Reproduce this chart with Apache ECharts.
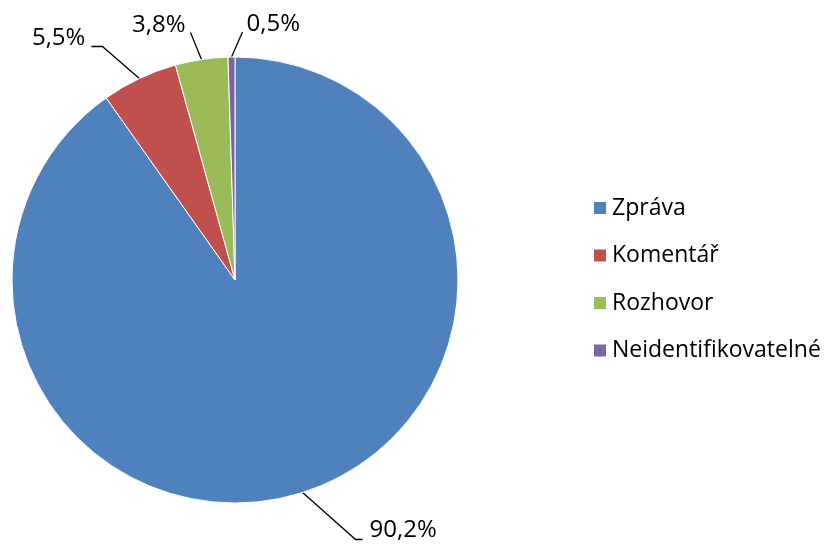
<!DOCTYPE html>
<html>
<head>
<meta charset="utf-8">
<script src="https://cdn.jsdelivr.net/npm/echarts@6/dist/echarts.min.js"></script>
<style>
  *{margin: 0; padding: 0;}
  html,body{width: 100%; height: 100%; background: #fff;}
  #chart{width: 828px; height: 544px;}
</style>
</head>
<body>
<div id="chart"></div>
<script>
var categories = ['Zpráva', 'Komentář', 'Rozhovor', 'Neidentifikovatelné']
var values = [90.2, 5.5, 3.8, 0.5]
var colors = ['#4f81bd', '#c0504d', '#9bbb59', '#8064a2']

// leader line shape per label, relative to the slice edge point:
// [elbowDx, elbowDy, endDx, labelDx, labelDy, align]
var leaderShapes = [
  [53, 47, 60, 67, 38, 'left'],
  [-37, -32, -48, -54, -40, 'right'],
  [-11, -27, -11, -16, -34, 'right'],
  [11, -25, 11, 15, -33, 'left']
]

var pieData = []
for (var i = 0; i < categories.length; i++) {
  pieData.push({ name: categories[i], value: values[i] })
}

var chart = echarts.init(document.getElementById('chart'))
var options = {
  color: colors,
  textStyle: { fontFamily: 'Open Sans' },
  legend: {
    orient: 'vertical',
    left: 587,
    top: 191,
    icon: 'rect',
    itemWidth: 14,
    itemHeight: 14,
    itemGap: 23.5,
    textStyle: {
      color: '#000',
      fontSize: 23,
      lineHeight: 24,
      fontFamily: 'Open Sans'
    },
    data: categories
  },
  series: [
    {
      type: 'pie',
      center: [235, 280],
      radius: 223,
      startAngle: 90,
      clockwise: true,
      animation: false,
      itemStyle: {
        borderColor: '#fff',
        borderWidth: 1
      },
      label: {
        show: true,
        position: 'outside',
        color: '#000',
        fontSize: 24,
        fontFamily: 'Open Sans',
        formatter: function(p) {
          return p.value.toFixed(1).replace('.', ',') + '%'
        }
      },
      labelLine: {
        show: true,
        length: 20,
        length2: 10,
        lineStyle: { color: '#000', width: 1.3 }
      },
      labelLayout: function(params) {
        var s = leaderShapes[params.dataIndex]
        var p0 = params.labelLinePoints[0]
        var elbow = [p0[0] + s[0], p0[1] + s[1]]
        var end = [p0[0] + s[2], p0[1] + s[1]]
        return {
          x: p0[0] + s[3],
          y: p0[1] + s[4],
          align: s[5],
          verticalAlign: 'middle',
          labelLinePoints: [p0, elbow, end]
        }
      },
      data: pieData
    }
  ]
}
chart.setOption(options)
</script>
</body>
</html>
